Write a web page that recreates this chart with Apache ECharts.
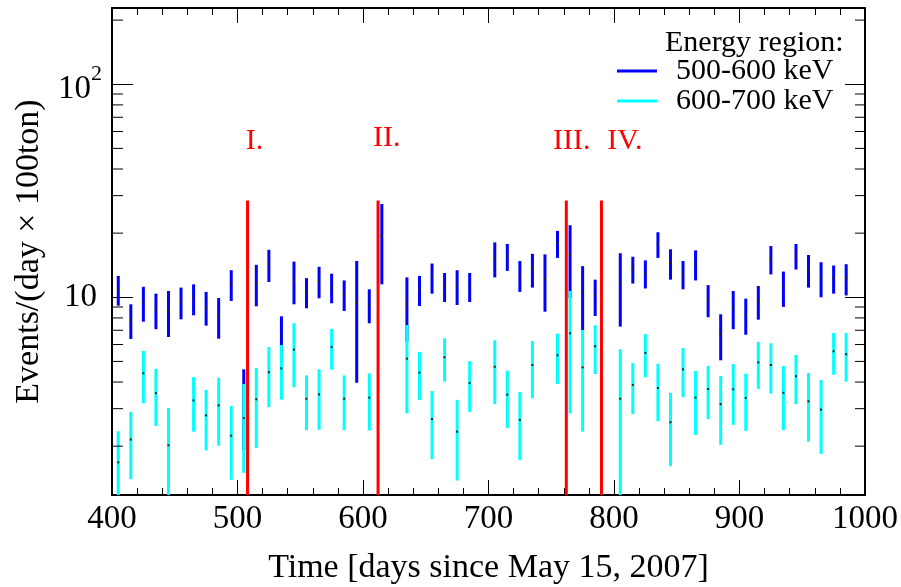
<!DOCTYPE html>
<html><head><meta charset="utf-8">
<script src="https://cdn.jsdelivr.net/npm/echarts/dist/echarts.min.js"></script>
<style>html,body{margin:0;padding:0;background:#fff}#c{width:901px;height:587px}</style>
</head><body><div id="c"></div>
<script>
// ---- data ----
const days = [405,415,425,435,445,455,465,475,485,495,
              505,515,525,535,545,555,565,575,585,595,
              605,615,635,645,655,665,675,685,705,715,
              725,735,745,755,765,775,785,805,815,825,
              835,845,855,865,875,885,895,905,915,925,
              935,945,955,965,975,985];

// 500-600 keV
const blueCenter = [10.9,7.82,9.50,8.74,8.62,9.50,9.89,8.94,8.14,11.5,
                    3.25,11.6,14.3,6.58,12.0,10.6,11.9,11.1,10.3,9.37,
                    9.23,19.4,9.27,10.9,12.5,11.3,11.3,11.3,15.2,15.6,
                    12.7,13.6,12.2,18.0,15.8,10.6,10.2,11.7,13.6,13.0,
                    17.8,14.5,12.9,14.3,9.74,6.70,8.88,8.26,9.61,15.1,
                    11.1,15.6,13.4,12.3,12.3,12.3];
const blueLow    = [9.13,6.37,7.68,7.08,6.51,7.88,8.23,7.36,6.39,9.61,
                    1.92,9.07,11.8,4.98,9.27,8.88,9.89,9.37,8.62,3.97,
                    7.55,11.5,6.19,9.10,10.4,9.50,9.20,9.50,12.4,13.3,
                    10.6,11.1,8.56,15.3,9.9,7.02,8.17,7.28,11.6,11.0,
                    15.3,12.1,10.9,12.0,8.06,5.06,7.08,6.67,7.85,12.8,
                    9.01,13.5,11.1,10.0,10.4,10.2];
const blueHigh   = [12.6,9.27,11.2,10.4,10.7,11.1,11.5,10.6,9.92,13.4,
                    4.59,14.2,16.7,8.14,14.7,12.3,13.9,12.9,12.0,14.8,
                    10.9,27.4,12.4,12.6,14.4,13.0,13.4,13.0,18.1,17.8,
                    14.8,16.0,15.9,20.5,21.8,14.0,12.1,16.1,15.5,14.9,
                    20.2,16.8,14.8,16.6,11.4,8.32,10.7,9.85,11.3,17.4,
                    13.2,17.8,15.8,14.6,14.1,14.3];

// 600-700 keV
const cyanCenter = [1.68,2.15,4.40,3.55,2.02,null,3.28,2.79,3.11,2.24,
                    2.71,3.32,4.45,4.64,5.68,3.34,3.50,5.84,3.34,null,
                    3.38,null,5.15,4.43,2.68,5.23,2.34,3.96,4.72,3.49,
                    2.66,4.81,null,5.34,6.78,4.69,5.89,3.34,3.88,5.48,
                    3.75,2.59,4.59,3.38,3.71,3.15,3.70,3.37,4.95,4.81,
                    3.56,4.26,3.25,2.97,5.58,5.40];
const cyanLow    = [1.0,1.40,3.18,2.49,1.0,null,2.34,1.91,2.01,1.39,
                    1.50,1.96,3.05,3.31,3.78,2.38,2.39,4.57,2.38,null,
                    2.37,null,2.85,3.29,1.74,4.02,1.38,2.90,3.15,2.43,
                    1.72,3.36,null,3.92,2.85,2.34,4.36,0.98,2.83,4.21,
                    2.62,1.61,3.40,2.26,2.68,2.03,2.52,2.36,3.71,3.53,
                    2.38,3.15,2.10,1.84,4.33,4.02];
const cyanHigh   = [2.35,2.90,5.60,4.62,3.02,null,4.22,3.67,4.19,3.09,
                    3.92,4.66,5.84,5.97,7.55,4.30,4.59,7.10,4.30,null,
                    4.40,null,7.41,5.54,3.63,6.42,3.30,5.01,6.28,4.52,
                    3.59,6.23,null,6.75,10.7,7.02,7.39,5.70,4.91,6.72,
                    4.88,3.56,5.78,4.51,4.76,4.27,4.86,4.38,6.17,6.08,
                    4.76,5.36,4.41,4.09,6.80,6.80];

const seriesNames = ['500-600 keV', '600-700 keV'];
const periodDays = [508, 612, 762, 790];
const periodTop = 28.5;
const periodLabels = ['I.', 'II.', 'III.', 'IV.'];
const periodLabelDays = [513.5, 618.9, 766.3, 808.6];
const periodLabelValues = [53.8, 56.0, 53.8, 53.8];
const yMinorTicks = [2,3,4,5,6,7,8,9,20,30,40,50,60,70,80,90,200];
const xMin = 400, xMax = 1000, yMin = 1.18, yMax = 228;

// ---- build ----
const FONT = 'Liberation Serif, DejaVu Serif, serif';
function rows(c, lo, hi) {
  const out = [];
  for (let i = 0; i < days.length; i++) {
    if (c[i] == null) continue;
    out.push([days[i], c[i], lo[i], hi[i]]);
  }
  return out;
}
function errorBar(color) {
  return function (params, api) {
    const x = api.value(0), c = api.value(1), lo = api.value(2), hi = api.value(3);
    const cs = params.coordSys;
    const pHi = api.coord([x, hi]), pLo = api.coord([x, lo]), pC = api.coord([x, c]);
    const top = Math.max(pHi[1], cs.y), bot = Math.min(pLo[1], cs.y + cs.height);
    return { type: 'group', children: [
      { type: 'rect', shape: { x: pC[0] - 1.5, y: top, width: 3, height: bot - top }, style: { fill: color } },
      { type: 'rect', shape: { x: pC[0] - 1, y: pC[1] - 1, width: 2, height: 2 }, style: { fill: '#222' } }
    ]};
  };
}

const chart = echarts.init(document.getElementById('c'), null, { renderer: 'canvas' });
const axisLine = { show: true, onZero: false, lineStyle: { color: '#000', width: 2 } };
const xBase = {
  type: 'value', min: xMin, max: xMax, interval: 100,
  axisLine: axisLine,
  axisTick: { show: true, inside: true, length: 15, lineStyle: { color: '#000', width: 1 } },
  minorTick: { show: true, splitNumber: 5, length: 7, lineStyle: { color: '#000', width: 1 } },
  splitLine: { show: false }, minorSplitLine: { show: false }
};
const yBase = {
  type: 'log', logBase: 10, min: yMin, max: yMax,
  axisLine: axisLine,
  axisTick: { show: true, inside: true, length: 21, lineStyle: { color: '#000', width: 1 } },
  splitLine: { show: false }
};
const isPow = (v, p) => Math.abs(Math.log10(v) - p) < 1e-6;

chart.setOption({
  animation: false,
  backgroundColor: '#fff',
  grid: { left: 112, right: 36, top: 8, bottom: 92, containLabel: false, outerBoundsMode: 'none' },
  title: { text: 'Energy region:', left: 665, top: 28, padding: 0,
           textStyle: { fontFamily: FONT, fontSize: 30, fontWeight: 'normal', color: '#000' } },
  legend: {
    data: seriesNames, orient: 'vertical', left: 617, top: 56, padding: 0,
    icon: 'rect', itemWidth: 40, itemHeight: 3, itemGap: 0,
    textStyle: { fontFamily: FONT, fontSize: 30, color: '#000', lineHeight: 28, padding: [0, 0, 0, 14] }
  },
  xAxis: [
    Object.assign({}, xBase, {
      position: 'bottom',
      axisLabel: { show: true, fontFamily: FONT, fontSize: 33, color: '#000', margin: 8,
                   formatter: function (v) { return String(v); } },
      name: 'Time [days since May 15, 2007]', nameLocation: 'middle', nameGap: 56,
      nameTextStyle: { fontFamily: FONT, fontSize: 34, color: '#000' }
    }),
    Object.assign({}, xBase, { position: 'top', axisLabel: { show: false } })
  ],
  yAxis: [
    Object.assign({}, yBase, {
      position: 'left',
      axisLabel: {
        show: true, margin: 10, color: '#000',
        formatter: function (v) {
          if (isPow(v, 2)) return '{b|10}{s|2}';
          if (isPow(v, 1)) return '{c|10}{h|2}';
          return '';
        },
        rich: {
          b: { fontFamily: FONT, fontSize: 33, color: '#000', padding: [10, 0, 0, 0] },
          s: { fontFamily: FONT, fontSize: 22, color: '#000', verticalAlign: 'top' },
          c: { fontFamily: FONT, fontSize: 33, color: '#000' },
          h: { fontFamily: FONT, fontSize: 10, color: 'transparent' }
        }
      },
      name: 'Events/(day \u00d7 100ton)', nameLocation: 'middle', nameRotate: 90, nameGap: 66,
      nameTextStyle: { fontFamily: FONT, fontSize: 34, color: '#000' }
    }),
    Object.assign({}, yBase, { position: 'right', axisLabel: { show: false }, axisTick: Object.assign({}, yBase.axisTick, { length: 20 }) })
  ],
  series: [
    { name: seriesNames[0], type: 'custom', xAxisIndex: 0, yAxisIndex: 0,
      itemStyle: { color: '#0000ff' }, encode: { x: 0, y: 1 },
      renderItem: errorBar('#0000ff'), data: rows(blueCenter, blueLow, blueHigh) },
    { name: seriesNames[1], type: 'custom', xAxisIndex: 0, yAxisIndex: 0,
      itemStyle: { color: '#00ffff' }, encode: { x: 0, y: 1 },
      renderItem: errorBar('#00ffff'), data: rows(cyanCenter, cyanLow, cyanHigh) },
    { name: 'periods', type: 'custom', xAxisIndex: 0, yAxisIndex: 0, silent: true,
      encode: { x: 0, y: 1 },
      data: periodDays.map(d => [d, periodTop]),
      renderItem: function (params, api) {
        const cs = params.coordSys;
        const p = api.coord([api.value(0), api.value(1)]);
        return { type: 'line', shape: { x1: p[0], y1: cs.y + cs.height, x2: p[0], y2: p[1] },
                 style: { stroke: '#ff0000', lineWidth: 3 } };
      } },
    { name: 'periodLabels', type: 'custom', xAxisIndex: 0, yAxisIndex: 0, silent: true,
      encode: { x: 0, y: 1 },
      data: periodLabelDays.map((d, i) => [d, periodLabelValues[i], i]),
      renderItem: function (params, api) {
        const p = api.coord([api.value(0), api.value(1)]);
        return { type: 'text', x: p[0], y: p[1],
                 style: { text: periodLabels[api.value(2)], fill: '#ff0000',
                          font: '30px ' + FONT, align: 'center', verticalAlign: 'middle' } };
      } },
    { name: 'minorTicks', type: 'custom', xAxisIndex: 0, yAxisIndex: 0, silent: true,
      encode: { x: 0, y: 1 },
      data: yMinorTicks.map(v => [xMin, v]),
      renderItem: function (params, api) {
        const v = api.value(1);
        const l = api.coord([xMin, v]), r = api.coord([xMax, v]);
        return { type: 'group', children: [
          { type: 'line', shape: { x1: l[0], y1: l[1], x2: l[0] + 11, y2: l[1] }, style: { stroke: '#000', lineWidth: 1 } },
          { type: 'line', shape: { x1: r[0], y1: r[1], x2: r[0] - 10, y2: r[1] }, style: { stroke: '#000', lineWidth: 1 } }
        ]};
      } }
  ]
});
</script></body></html>
